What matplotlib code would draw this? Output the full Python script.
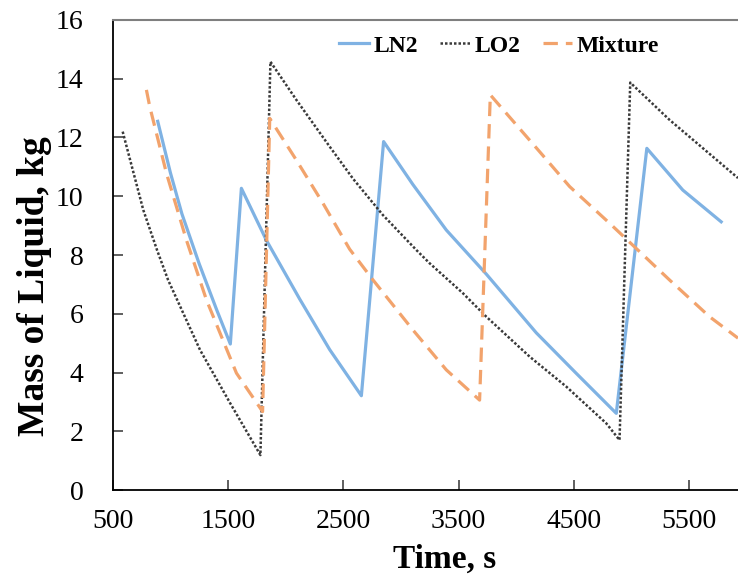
import matplotlib
matplotlib.use('Agg')
import matplotlib.pyplot as plt

# Mass of liquid vs time
ln2_time = [890, 1000, 1100, 1250, 1400, 1520, 1616, 1833, 2122, 2382, 2657,
            2850, 3104, 3394, 3741, 4175, 4522, 4869, 5134, 5446, 5779]
ln2_mass = [12.55, 10.8, 9.4, 7.7, 6.15, 4.97, 10.27, 8.5, 6.5, 4.78, 3.21,
            11.86, 10.4, 8.85, 7.35, 5.35, 3.97, 2.61, 11.63, 10.21, 9.13]

lo2_time = [586, 765, 884, 980, 1257, 1518, 1781, 1868, 2093, 2382, 2584, 2844,
            3134, 3249, 3538, 3741, 4117, 4435, 4782, 4897, 4990, 5331, 5925]
lo2_mass = [12.2, 9.53, 8.17, 7.15, 4.77, 2.96, 1.19, 14.58, 13.28, 11.69, 10.6, 9.36,
            8.17, 7.72, 6.70, 5.9, 4.54, 3.52, 2.27, 1.70, 13.87, 12.6, 10.62]

mix_time = [792, 821, 966, 1139, 1313, 1573, 1800, 1862, 2093, 2324, 2555, 2758,
            3104, 3394, 3683, 3776, 4203, 4464, 4811, 5331, 5678, 5925]
mix_mass = [13.62, 13.05, 10.78, 8.51, 6.47, 3.98, 2.67, 12.65, 11.23, 9.76, 8.2, 7.15,
            5.45, 4.09, 3.06, 13.45, 11.52, 10.33, 9.08, 7.15, 5.9, 5.17]

x_ticks = [500, 1500, 2500, 3500, 4500, 5500]
y_ticks = [0, 2, 4, 6, 8, 10, 12, 14, 16]

plt.rcParams['font.family'] = ['Liberation Serif', 'DejaVu Serif']

fig = plt.figure(figsize=(7.38, 5.81), dpi=100)
ax = fig.add_axes([0.1528, 0.1566, 0.8472, 0.809])

ax.plot(ln2_time, ln2_mass, color='#7fb2e3', linewidth=2.3, label='LN2')
ax.plot(lo2_time, lo2_mass, color='#3a3a3a', linewidth=1.8, linestyle=(0, (1, 0.8)), label='LO2')
ax.plot(mix_time, mix_mass, color='#f2a36c', linewidth=2.3, linestyle=(0, (4.5, 2.5)), label='Mixture')

ax.set_xlim(500, 5925)
ax.set_ylim(0, 16)
ax.set_xticks(x_ticks)
ax.set_yticks(y_ticks)
ax.tick_params(axis='both', direction='in', labelsize=20, color='#444444')
ax.tick_params(axis='y', length=7, width=1.2, pad=21)
ax.tick_params(axis='x', length=7, width=1.2, pad=14)

ax.spines['right'].set_visible(False)
ax.spines['top'].set_color('#7f7f7f')
ax.spines['top'].set_linewidth(1.5)
ax.spines['left'].set_linewidth(1.3)
ax.spines['bottom'].set_linewidth(1.3)

ax.set_xlabel('Time, s', fontsize=24, fontweight='bold')
ax.set_ylabel('Mass of Liquid, kg', fontsize=27, fontweight='bold')
ax.xaxis.set_label_coords(0.53, -0.115)
ax.yaxis.set_label_coords(-0.097, 0.434)

ax.legend(loc='center', bbox_to_anchor=(0.618, 0.945), ncol=3, frameon=False,
          prop={'size': 17, 'weight': 'bold'}, handlelength=1.25,
          handletextpad=0.2, columnspacing=0.95)

plt.savefig('out.png', dpi=100)
plt.close()
